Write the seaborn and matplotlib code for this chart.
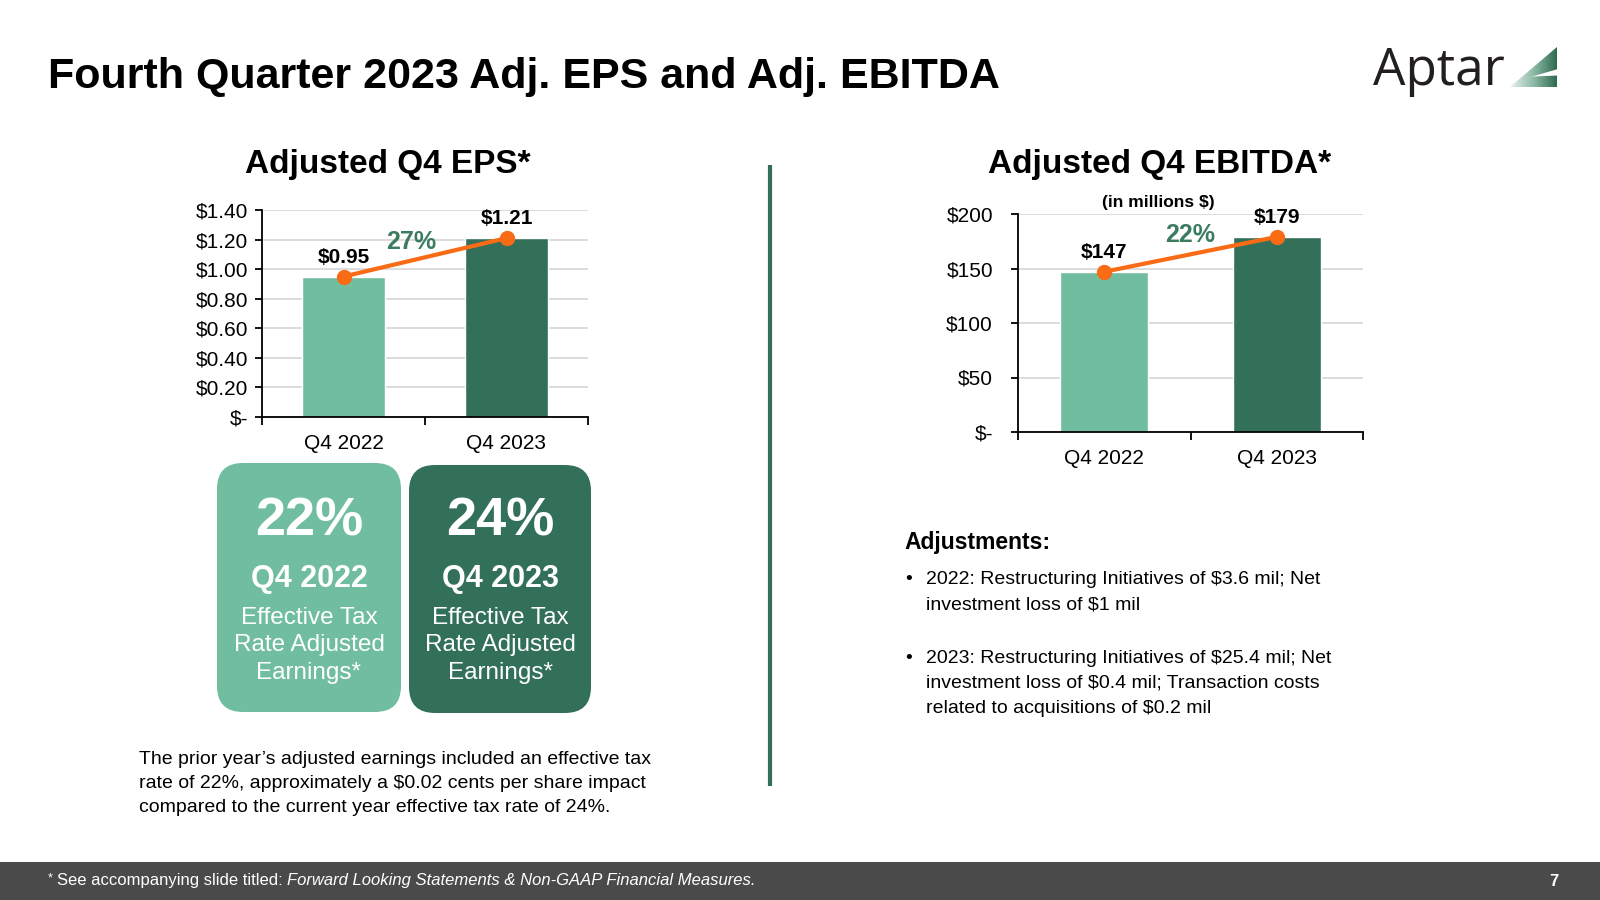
import numpy as np
import matplotlib.pyplot as plt
import seaborn as sns
from matplotlib.patches import FancyBboxPatch, Polygon, Rectangle
from matplotlib.colors import LinearSegmentedColormap

# chart data
quarters = ["Q4 2022", "Q4 2023"]
eps = [0.95, 1.21]
eps_labels = ["$0.95", "$1.21"]
eps_growth = "27%"
eps_ticks = [0, 0.2, 0.4, 0.6, 0.8, 1.0, 1.2, 1.4]
eps_ticklabels = ["$-", "$0.20", "$0.40", "$0.60", "$0.80", "$1.00", "$1.20", "$1.40"]

ebitda = [147, 179]
ebitda_labels = ["$147", "$179"]
ebitda_growth = "22%"
ebitda_ticks = [0, 50, 100, 150, 200]
ebitda_ticklabels = ["$-", "$50", "$100", "$150", "$200"]

tax_rates = ["22%", "24%"]
tax_text = ["Effective Tax", "Rate Adjusted", "Earnings*"]

note_lines = ["The prior year\u2019s adjusted earnings included an effective tax",
              "rate of 22%, approximately a $0.02 cents per share impact",
              "compared to the current year effective tax rate of 24%."]

adjustments = [["2022: Restructuring Initiatives of $3.6 mil; Net",
                "investment loss of $1 mil"],
               ["2023: Restructuring Initiatives of $25.4 mil; Net",
                "investment loss of $0.4 mil; Transaction costs",
                "related to acquisitions of $0.2 mil"]]

LIGHT = "#70BE9F"
DARK = "#33705A"
ORANGE = "#F96B14"
GREEN_TXT = "#3B7B5E"
GRID = "#D9D9D9"

sns.set_theme(style="white")
plt.rcParams['font.family'] = ['Liberation Sans', 'DejaVu Sans']
plt.rcParams['text.color'] = 'black'
plt.rcParams['xtick.color'] = 'black'
plt.rcParams['ytick.color'] = 'black'
plt.rcParams['axes.labelcolor'] = 'black'


def bar_chart(ax, values, labels, growth, ticks, ticklabels, ypad, growth_off):
    """bars with an orange growth line on top"""
    sns.barplot(x=quarters, y=values, hue=quarters, palette=[LIGHT, DARK],
                width=0.51, saturation=1, legend=False, ax=ax, zorder=2)
    xs = np.arange(len(values))
    ax.plot(xs, values, color=ORANGE, lw=3, marker="o", ms=10, zorder=5)

    for x, v, lab in zip(xs, values, labels):
        ax.annotate(lab, (x, v), xytext=(0, 7), textcoords="offset points",
                    ha="center", va="bottom", fontsize=15, fontweight="bold",
                    color="black")

    # growth % near the middle of the line
    ax.annotate(growth, (xs.mean(), np.mean(values)), xytext=growth_off,
                textcoords="offset points", ha="center", va="center",
                fontsize=18, fontweight="bold", color=GREEN_TXT)

    ax.set_xlim(-0.5, len(values) - 0.5)
    ax.set_ylim(ticks[0], ticks[-1])
    ax.set_yticks(ticks)
    ax.set_yticklabels(ticklabels)
    ax.set_xticks(xs)
    ax.set_xticklabels(quarters)
    ax.set_xticks(np.arange(len(values) + 1) - 0.5, minor=True)
    ax.set_xlabel("")
    ax.set_ylabel("")

    ax.yaxis.grid(True, color=GRID, lw=1.3)
    ax.set_axisbelow(True)
    for s in ["top", "right"]:
        ax.spines[s].set_visible(False)
    for s in ["left", "bottom"]:
        ax.spines[s].set_color("black")
        ax.spines[s].set_linewidth(1.3)

    ax.tick_params(axis="y", length=5, width=1.3, color="black", pad=ypad,
                   labelsize=15, left=True, direction="out", labelcolor="black")
    ax.tick_params(axis="x", which="major", length=0, pad=12, labelsize=15,
                   labelcolor="black")
    ax.tick_params(axis="x", which="minor", length=6, width=1.3,
                   color="black", bottom=True, direction="out")


fig = plt.figure(figsize=(16, 9), dpi=100)

# background layer in pixel coordinates
bg = fig.add_axes([0, 0, 1, 1])
bg.axis("off")

# title
bg.text(48, 88, "Fourth Quarter 2023 Adj. EPS and Adj. EBITDA", fontsize=31,
        fontweight="bold", va="baseline", ha="left", color="black")

# logo
bg.text(1373, 85, "Aptar", fontsize=37, family=["Open Sans", "DejaVu Sans"],
        va="baseline", ha="left", color="#231F20")
tri = Polygon([[1510, 87], [1557, 47], [1557, 87]], closed=True,
              facecolor="none", edgecolor="none")
bg.add_patch(tri)
grad = np.linspace(0, 1, 100).reshape(1, -1)
cmap = LinearSegmentedColormap.from_list("logo", ["#E8F1EC", "#8DBBA5", "#2E6B50"])
im = bg.imshow(grad, extent=[1510, 1557, 87, 47], cmap=cmap, aspect="auto")
im.set_clip_path(tri)
bg.add_patch(Polygon([[1527, 78], [1558, 69], [1558, 75.5], [1533, 76.5]],
                     closed=True, facecolor="white", edgecolor="none"))

# chart titles
bg.text(388, 165, "Adjusted Q4 EPS*", fontsize=24, fontweight="bold",
        ha="center", va="center")
bg.text(1160, 165, "Adjusted Q4 EBITDA*", fontsize=24, fontweight="bold",
        ha="center", va="center")
bg.text(1158, 202, "(in millions $)", fontsize=12.5, fontweight="bold",
        ha="center", va="center")

# divider
bg.plot([770, 770], [165, 786], color=DARK, lw=3, solid_capstyle="butt")

# tax rate boxes
boxes = [(217, 463, 184, 249, LIGHT), (409, 465, 182, 248, DARK)]
for (x0, y0, w, h, col), rate, q in zip(boxes, tax_rates, quarters):
    bg.add_patch(FancyBboxPatch((x0, y0), w, h,
                                boxstyle="round,pad=0,rounding_size=26",
                                facecolor=col, edgecolor="none"))
    cx = x0 + w / 2
    bg.text(cx, 522, rate, fontsize=39, fontweight="bold", color="white",
            ha="center", va="center")
    bg.text(cx, 579, q, fontsize=22, fontweight="bold", color="white",
            ha="center", va="center")
    for i, line in enumerate(tax_text):
        bg.text(cx, 618 + i * 27.5, line, fontsize=17.5, color="white",
                ha="center", va="center")

# note under boxes
for i, line in enumerate(note_lines):
    bg.text(139, 759 + i * 24.5, line, fontsize=14, ha="left", va="center")

# adjustments
bg.text(904, 543, "Adjustments:", fontsize=16.5, fontweight="bold",
        ha="left", va="center")
y = 580
for block in adjustments:
    bg.text(905, y, "\u2022", fontsize=14, ha="left", va="center")
    for line in block:
        bg.text(926, y, line, fontsize=14, ha="left", va="center")
        y += 25.3
    y += 27.5

# footer
bg.add_patch(Rectangle((0, 862), 1600, 38, facecolor="#4A4A4A", edgecolor="none"))
bg.text(48, 878, "*", fontsize=9, color="white", ha="left", va="center")
bg.text(57, 881, "See accompanying slide titled: ", fontsize=12, color="white",
        ha="left", va="center")
bg.text(287, 881, "Forward Looking Statements & Non-GAAP Financial Measures.",
        fontsize=12, style="italic", color="white", ha="left", va="center")
bg.text(1554, 882, "7", fontsize=12, fontweight="bold", color="white",
        ha="center", va="center")

bg.set_xlim(0, 1600)
bg.set_ylim(900, 0)

# EPS chart
ax1 = fig.add_axes([262 / 1600, 1 - 417 / 900, 326 / 1600, 207 / 900])
bar_chart(ax1, eps, eps_labels, eps_growth, eps_ticks, eps_ticklabels,
          ypad=5, growth_off=(-10, 11))

# EBITDA chart
ax2 = fig.add_axes([1018 / 1600, 1 - 432 / 900, 345 / 1600, 218 / 900])
bar_chart(ax2, ebitda, ebitda_labels, ebitda_growth, ebitda_ticks,
          ebitda_ticklabels, ypad=13, growth_off=(0, 14))

fig.savefig("out.png", dpi=100, facecolor="white")
